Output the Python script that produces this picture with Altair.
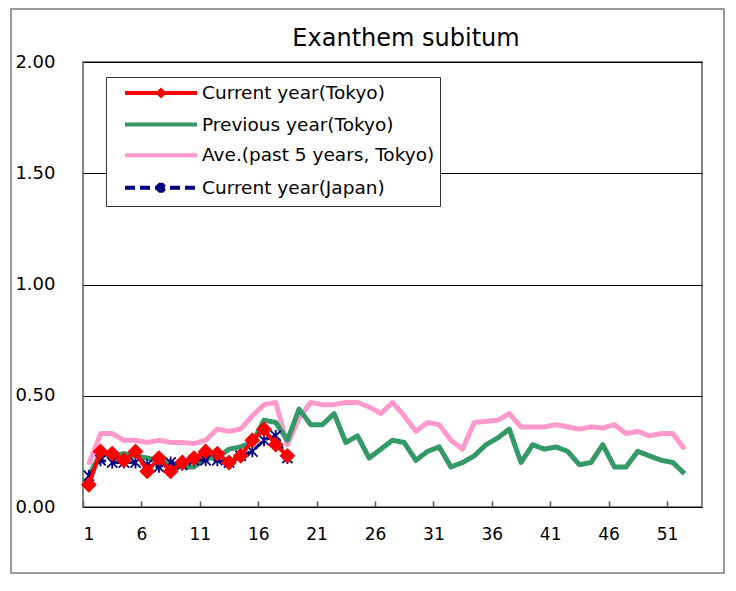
import altair as alt
import pandas as pd

weeks = list(range(1, 53))

current_tokyo = [0.10, 0.25, 0.24, 0.21, 0.25, 0.16, 0.22, 0.16, 0.20, 0.22,
                 0.25, 0.24, 0.20, 0.23, 0.30, 0.35, 0.28, 0.23]
current_japan = [0.14, 0.21, 0.20, 0.20, 0.20, 0.19, 0.18, 0.20, 0.19, 0.21,
                 0.21, 0.21, 0.20, 0.23, 0.25, 0.30, 0.32, 0.22]
previous_tokyo = [0.14, 0.24, 0.23, 0.24, 0.23, 0.22, 0.21, 0.20, 0.18, 0.18,
                  0.22, 0.22, 0.26, 0.27, 0.29, 0.39, 0.38, 0.30, 0.44, 0.37,
                  0.37, 0.42, 0.29, 0.32, 0.22, 0.26, 0.30, 0.29, 0.21, 0.25,
                  0.27, 0.18, 0.20, 0.23, 0.28, 0.31, 0.35, 0.20, 0.28, 0.26,
                  0.27, 0.25, 0.19, 0.20, 0.28, 0.18, 0.18, 0.25, 0.23, 0.21,
                  0.20, 0.15]
average_5y = [0.19, 0.33, 0.33, 0.30, 0.30, 0.29, 0.30, 0.29, 0.29, 0.285,
              0.30, 0.35, 0.34, 0.35, 0.41, 0.46, 0.47, 0.28, 0.40, 0.47,
              0.46, 0.46, 0.47, 0.47, 0.45, 0.42, 0.47, 0.41, 0.34, 0.38,
              0.37, 0.30, 0.26, 0.38, 0.385, 0.39, 0.42, 0.36, 0.36, 0.36,
              0.37, 0.36, 0.35, 0.36, 0.355, 0.37, 0.33, 0.34, 0.32, 0.33,
              0.33, 0.26]

chart_title = "Exanthem subitum"
series_names = ["Current year(Tokyo)", "Previous year(Tokyo)",
                "Ave.(past 5 years, Tokyo)", "Current year(Japan)"]
series_values = [current_tokyo, previous_tokyo, average_5y, current_japan]
series_colors = ["#ff0000", "#339966", "#ff99cc", "#000080"]
series_dash = [[1, 0], [1, 0], [1, 0], [10, 5]]
series_widths = [4, 5, 5, 3]

x_ticks = [0.5, 5.5, 10.5, 15.5, 20.5, 25.5, 30.5, 35.5, 40.5, 45.5, 50.5]
y_ticks = [0, 0.5, 1.0, 1.5, 2.0]

FONT = "DejaVu Sans"

# legend glyphs: line segment, with the series marker in the middle
LINE = "M0.333,0H8.333"
legend_shapes = [
    LINE + "M4.333,-0.3L4.633,0L4.333,0.3L4.033,0Z",
    LINE,
    LINE,
    LINE + "M4.333,-0.55V0.55M3.95,-0.4L4.716,0.4M3.95,0.4L4.716,-0.4",
]

frames = {}
for name, vals in zip(series_names, series_values):
    frames[name] = pd.DataFrame({"week": weeks[:len(vals)], "value": vals,
                                 "series": name})

x_enc = alt.X("week:Q",
              scale=alt.Scale(domain=[0.5, 53.5], nice=False, zero=False),
              axis=alt.Axis(values=x_ticks, labelExpr="datum.value + 0.5",
                            grid=False, domain=False, ticks=True, tickSize=6,
                            offset=-6, tickColor="#555555", tickWidth=1.5,
                            labelFontSize=17, labelPadding=19,
                            labelFont=FONT, labelColor="black", title=None))
y_enc = alt.Y("value:Q",
              scale=alt.Scale(domain=[0, 2], nice=False),
              axis=alt.Axis(values=y_ticks, format=".2f", grid=True,
                            gridColor="black", gridWidth=1, domain=False,
                            ticks=False, labelFontSize=18, labelPadding=28,
                            labelFont=FONT, labelColor="black", title=None))

legend = alt.Legend(orient="none", legendX=23, legendY=15, direction="vertical",
                    title=None, symbolType=LINE, symbolSize=324,
                    symbolStrokeWidth=4, symbolOffset=0, symbolOpacity=1,
                    labelFontSize=18.5, labelFont=FONT, labelColor="black",
                    labelOffset=69, labelLimit=500, rowPadding=9.6, padding=5,
                    strokeColor="#333333", fillColor="white")

color_enc = alt.Color("series:N",
                      scale=alt.Scale(domain=series_names, range=series_colors),
                      legend=legend)
dash_enc = alt.StrokeDash("series:N",
                          scale=alt.Scale(domain=series_names, range=series_dash),
                          legend=legend)
shape_enc = alt.Shape("series:N",
                      scale=alt.Scale(domain=series_names, range=legend_shapes),
                      legend=legend)


def line_layer(i):
    return alt.Chart(frames[series_names[i]]).mark_line(
        strokeWidth=series_widths[i], strokeJoin="round"
    ).encode(x=x_enc, y=y_enc, color=color_enc, strokeDash=dash_enc)


# legend-only layer (draws no marks) so the legend glyphs carry the markers
legend_layer = alt.Chart(frames[series_names[0]]).transform_filter(
    "false"
).mark_point(filled=False, opacity=1).encode(
    x=x_enc, y=y_enc, color=color_enc, strokeDash=dash_enc, shape=shape_enc
)

asterisk = "M0,-1V1M-0.87,-0.87L0.87,0.87M-0.87,0.87L0.87,-0.87"

japan_pts = alt.Chart(frames[series_names[3]]).mark_point(
    shape=asterisk, filled=False, size=140, color="#000080", strokeWidth=1.8,
    opacity=1
).encode(x=x_enc, y=y_enc)

tokyo_pts = alt.Chart(frames[series_names[0]]).mark_point(
    shape="diamond", filled=True, size=250, color="#ff0000", opacity=1
).encode(x=x_enc, y=y_enc)

frame = alt.Chart(alt.Data(values=[{}])).mark_rect(
    fillOpacity=0, stroke="#7a7a7a", strokeWidth=1.5
).encode(x=alt.value(-72), x2=alt.value(641), y=alt.value(-53), y2=alt.value(511))

title = alt.Chart(alt.Data(values=[{"t": chart_title}])).mark_text(
    font=FONT, fontSize=24, color="black", align="center", baseline="alphabetic"
).encode(text="t:N", x=alt.value(323), y=alt.value(-16))

chart = alt.layer(
    frame, title,
    line_layer(2), line_layer(1), line_layer(3), japan_pts,
    line_layer(0), tokyo_pts, legend_layer
).properties(
    width=619, height=445,
    padding={"left": 75, "top": 54, "right": 24, "bottom": 68},
    autosize=alt.AutoSizeParams(type="none"),
).configure_view(stroke="#868686", strokeWidth=2)

chart.save("out.html", embed_options={"renderer": "svg", "actions": False})
